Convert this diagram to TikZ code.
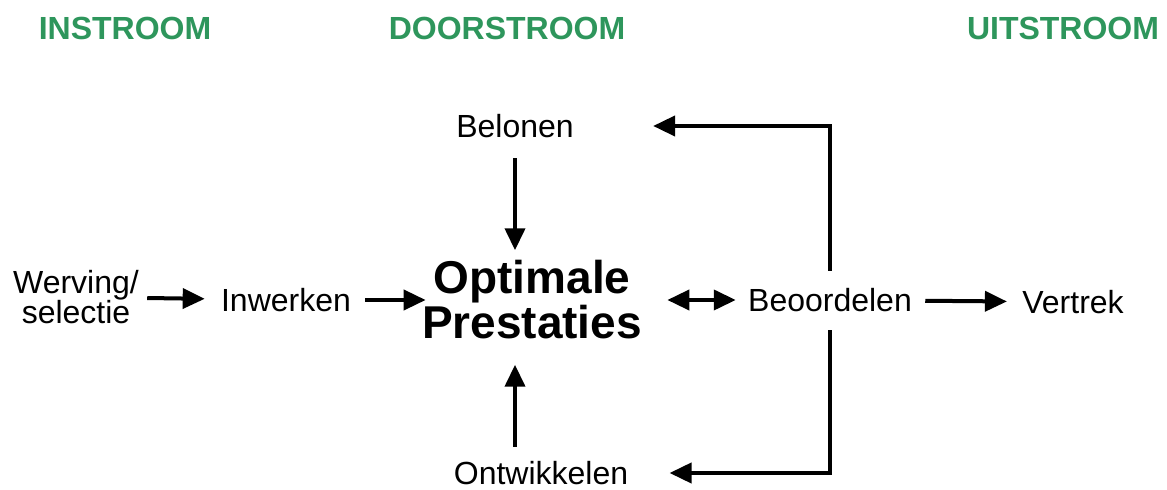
\documentclass[tikz,border=0pt]{standalone}
\usepackage{fontspec}
\setmainfont{Liberation Sans}
\usetikzlibrary{arrows.meta, positioning, calc}
\usepackage{xcolor}
\definecolor{fasegroen}{RGB}{46,150,92}

\begin{document}
\begin{tikzpicture}[x=0.5pt, y=-0.5pt,
    fase/.style={text=fasegroen, font=\fontsize{16}{18}\selectfont\bfseries},
    stap/.style={font=\fontsize{16}{15}\selectfont, align=center, inner sep=2pt},
    pijl/.style={-{Triangle[length=11pt, width=10pt]}, line width=2pt},
    dubbel/.style={{Triangle[length=11pt, width=10pt]}-{Triangle[length=11pt, width=10pt]}, line width=2pt}]
    \useasboundingbox (0,0) rectangle (1167,490);
    % fases
    \node[fase] (instroom) at (125,28) {INSTROOM};
    \node[fase] (doorstroom) at (507,28) {DOORSTROOM};
    \node[fase] (uitstroom) at (1063,28) {UITSTROOM};
    % stappen
    \node[stap] (werving) at (76,297) {Werving/\\selectie};
    \node[stap] (inwerken) at (286,300) {Inwerken};
    \node[font=\fontsize{23}{21}\selectfont\bfseries, align=center, inner sep=0pt] (optimaal) at (532,300) {Optimale\\Prestaties};
    \node[stap] (belonen) at (515,126) {Belonen};
    \node[stap, inner sep=0pt] (ontwikkelen) at (541,473) {Ontwikkelen};
    \node[stap] (beoordelen) at (830,300) {Beoordelen};
    \node[stap] (vertrek) at (1073,302) {Vertrek};
    % pijlen
    \draw[pijl, shorten <=2pt, shorten >=6pt] (werving) -- (inwerken);
    \draw[pijl, shorten <=5pt, shorten >=-2pt] (inwerken) -- (optimaal);
    \draw[dubbel, shorten <=12.5pt, shorten >=4pt] (optimaal) -- (beoordelen);
    \draw[pijl, shorten <=4.5pt, shorten >=5.5pt] (beoordelen) -- (vertrek);
    \draw[pijl, shorten <=8pt, shorten >=5pt] (belonen.south) -- (optimaal.north -| belonen.south);
    \draw[pijl, shorten <=7pt, shorten >=12.5pt] (ontwikkelen.north -| belonen.south) -- (optimaal.south -| belonen.south);
    \draw[pijl, shorten <=6.5pt, shorten >=37.5pt] (beoordelen.north) |- (belonen.east);
    \draw[pijl, shorten <=7pt, shorten >=20.5pt] (beoordelen.south) |- (ontwikkelen.east);
\end{tikzpicture}
\end{document}
